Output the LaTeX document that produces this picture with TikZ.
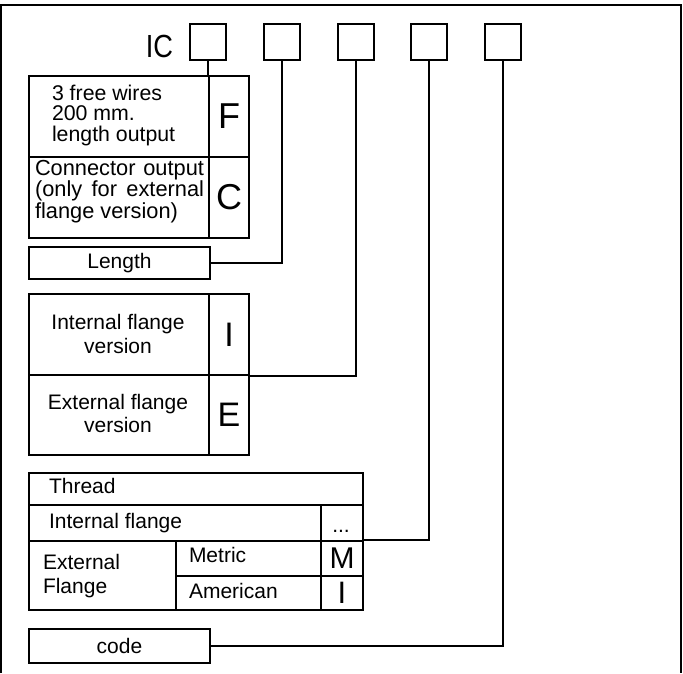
\documentclass[tikz,border=0pt]{standalone}
\usepackage{fontspec}
\setmainfont{Liberation Sans}
\begin{document}
\begin{tikzpicture}[x=1pt,y=-1pt,line width=2pt,
  cell/.style={draw,inner sep=0pt,anchor=north west},
  sq/.style={draw,inner sep=0pt,minimum size=36pt},
  txt/.style={inner sep=0pt,font=\fontsize{21}{24}\selectfont},
  ctxt/.style={inner sep=0pt,font=\fontsize{21.3}{20.2}\selectfont},
  big/.style={inner sep=0pt,font=\fontsize{#1}{#1}\selectfont},
  wire/.style={line width=2pt}]
\useasboundingbox (0,0) rectangle (683,673);
% frame
\coordinate (fbl) at (1,673);
\coordinate (ftl) at (1,4.5);
\coordinate (ftr) at (681,4.5);
\coordinate (fbr) at (681,673);
\draw (fbl) -- (ftl) -- (ftr) -- (fbr);
% title and code squares
\node[big=32,anchor=base west,xscale=0.85] (ic) at (145,57) {IC};
\node[sq] (s1) at (208,42) {};
\node[sq] (s2) at (282,42) {};
\node[sq] (s3) at (356,42) {};
\node[sq] (s4) at (429,42) {};
\node[sq] (s5) at (503,42) {};
% output block
\node[cell,minimum width=180pt,minimum height=81pt] (ft) at (28,75) {};
\node[cell,minimum width=40pt,minimum height=81pt] (fl) at (208,75) {};
\node[cell,minimum width=180pt,minimum height=81pt] (ct) at (28,156) {};
\node[cell,minimum width=40pt,minimum height=81pt] (cl) at (208,156) {};
\node[ctxt,align=left,anchor=base west] (ftx) at (51,141)
  {3 free wires\\200 mm.\\length output};
\node[big=36] (fL) at (fl.center) {F};
\node[inner sep=0pt,align=left,anchor=base west,font=\fontsize{21.8}{19}\selectfont] (ctx) at (34,218)
  {\makebox[169pt][s]{Connector output}\\\makebox[169pt][s]{(only for external}\\flange version)};
\node[big=36] (cL) at (cl.center) {C};
% length
\node[cell,minimum width=181pt,minimum height=32pt] (len) at (28,246) {};
\node[txt] (lent) at (len.center) {Length};
% flange version block
\node[cell,minimum width=180pt,minimum height=81pt] (it) at (28,293) {};
\node[cell,minimum width=40pt,minimum height=81pt] (il) at (208,293) {};
\node[cell,minimum width=180pt,minimum height=80pt] (et) at (28,374) {};
\node[cell,minimum width=40pt,minimum height=80pt] (el) at (208,374) {};
\node[txt,align=center,anchor=base,font=\fontsize{21}{23.5}\selectfont] (itx) at (118,353)
  {Internal flange\\version};
\node[txt,align=center,anchor=base,font=\fontsize{21}{23.5}\selectfont] (etx) at (118,432.5)
  {External flange\\version};
\node[big=34] (iL) at (il.center) {I};
\node[big=34] (eL) at (el.center) {E};
% thread table
\node[cell,minimum width=334pt,minimum height=32pt] (th) at (28,472) {};
\node[cell,minimum width=292pt,minimum height=36pt] (inf) at (28,504) {};
\node[cell,minimum width=42pt,minimum height=36pt] (dots) at (320,504) {};
\node[cell,minimum width=147pt,minimum height=69pt] (exf) at (28,540) {};
\node[cell,minimum width=145pt,minimum height=35pt] (met) at (175,540) {};
\node[cell,minimum width=145pt,minimum height=34pt] (ame) at (175,575) {};
\node[cell,minimum width=42pt,minimum height=35pt] (mc) at (320,540) {};
\node[cell,minimum width=42pt,minimum height=34pt] (ic2) at (320,575) {};
\node[txt,anchor=base west] (tht) at (48,493) {Thread};
\node[txt,anchor=base west] (inft) at (48,528) {Internal flange};
\node[txt,anchor=base] (dt) at (341,532) {...};
\node[txt,align=left,anchor=base west,font=\fontsize{21}{24}\selectfont] (ext) at (42,593)
  {External\\Flange};
\node[txt,anchor=base west] (mt) at (188,562) {Metric};
\node[txt,anchor=base west] (at) at (188,598) {American};
\node[big=30] (mL) at (mc.center) {M};
\node[big=31] (iL2) at (ic2.center) {I};
% code
\node[cell,minimum width=181pt,minimum height=34pt] (code) at (28,628) {};
\node[txt] (codet) at (code.center) {code};
% connectors
\draw[wire] (s1.south) -- (fl.north west);
\draw[wire] (s2.south) |- (len.east);
\draw[wire] (s3.south) |- (il.south east);
\draw[wire] (s4.south) |- ([yshift=2pt]dots.south east);
\draw[wire] (s5.south) |- (code.east);
\end{tikzpicture}
\end{document}
